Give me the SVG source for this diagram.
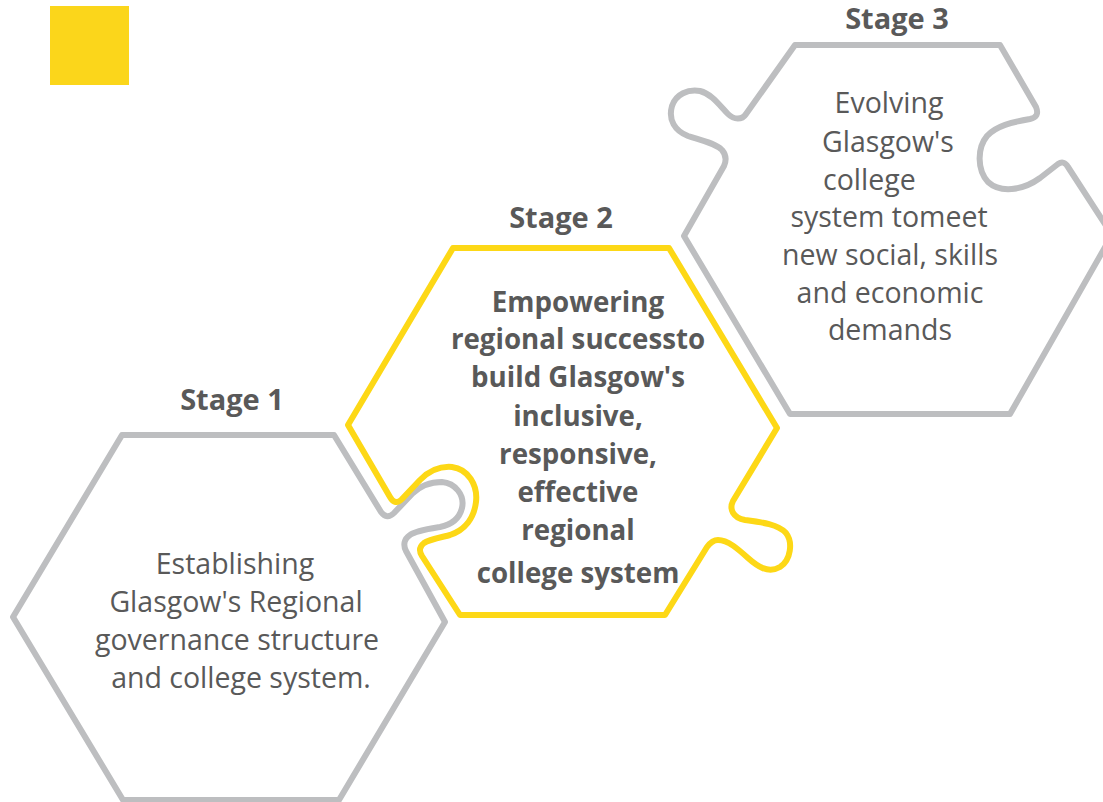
<svg xmlns="http://www.w3.org/2000/svg" width="1103" height="802" viewBox="0 0 1103 802">
<style>
.hex{fill:none;stroke-width:6;stroke-linejoin:round;stroke-linecap:round}
.gray{stroke:#BDBEC0}
.yel{stroke:#FDD816}
text{font-family:"Open Sans","Liberation Sans",sans-serif;fill:#595959;text-anchor:middle}
.title{font-weight:bold;font-size:29px}
.body{font-size:28.5px}
.bold{font-weight:bold;font-size:27.7px}
</style>
<rect x="50" y="6" width="79" height="79" fill="#FBD61B"/>
<g id="stage1">
<path class="hex gray" d="M122,435 H334 L381,512 Q387,520 394,513 L412,494 C420,486 430,482 442,482 C455,483 465,495 462,508 C459,520 450,525 440,527 C428,529 415,531 410,535 C404,539 403,545 406,551 L445,622 L339,800 H123 L13,617 Z"/>
<text class="title" x="232" y="410">Stage 1</text>
<text class="body" x="235" y="574">Establishing</text>
<text class="body" x="236" y="612">Glasgow's Regional</text>
<text class="body" x="237" y="650">governance structure</text>
<text class="body" x="241" y="688">and college system.</text>
</g>
<g id="stage2">
<path class="hex yel" d="M453,248 H669 L777,428 L733,501 C729,509 733,518 745,520 C760,522 778,524 786,533 C793,542 791,560 780,567 C768,574 757,566 748,558 C738,549 728,540 718,540 C713,540 710,543 707,547 L665,615 H460 L422,556 C419,551 419,547 424,543 C428,540 438,538 450,535 C465,530 474,518 476,502 C478,485 468,469 452,467 C440,466 430,470 420,480 L402,499 Q395,506 390,497 L348,425 Z"/>
<text class="title" x="561" y="228">Stage 2</text>
<text class="bold" x="578" y="312">Empowering</text>
<text class="bold" x="578" y="349">regional successto</text>
<text class="bold" x="578" y="387">build Glasgow's</text>
<text class="bold" x="578" y="426">inclusive,</text>
<text class="bold" x="578" y="464">responsive,</text>
<text class="bold" x="578" y="502">effective</text>
<text class="bold" x="578" y="540">regional</text>
<text class="bold" x="578" y="583">college system</text>
</g>
<g id="stage3">
<path class="hex gray" d="M795,45 H1000 L1036,107 Q1040,117 1030,119 C1012,122 996,126 987,136 C977,148 977,170 988,182 C1000,193 1022,191 1040,178 L1058,164 Q1064,160 1068,167 L1112,235 L1010,414 H790 L684,236 L724,166 Q728,157 722,150 C715,143 700,140 688,136 C675,131 668,120 672,106 C676,94 688,89 700,91 C712,94 720,106 728,114 C734,120 742,120 746,114 L795,45 Z"/>
<text class="title" x="897" y="29">Stage 3</text>
<text class="body" x="889" y="113">Evolving</text>
<text class="body" x="888" y="152">Glasgow's</text>
<text class="body" x="823" y="190" style="text-anchor:start">college</text>
<text class="body" x="889" y="227">system tomeet</text>
<text class="body" x="890" y="265">new social, skills</text>
<text class="body" x="890" y="303">and economic</text>
<text class="body" x="890" y="340">demands</text>
</g>
</svg>
